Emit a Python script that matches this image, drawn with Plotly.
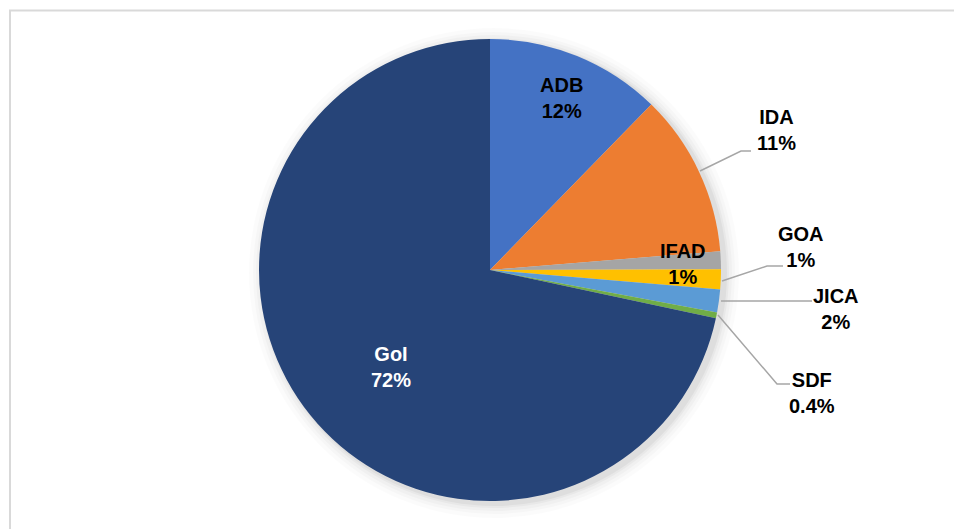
import plotly.graph_objects as go

W, H = 954, 529

labels = ["ADB", "IDA", "GOA", "IFAD", "JICA", "SDF", "GoI"]
values = [12.3, 11.4, 1.25, 1.4, 1.6, 0.4, 71.65]
colors = ["#4472C4", "#ED7D31", "#A5A5A5", "#FFC000", "#5B9BD5", "#70AD47", "#264478"]

total = sum(values)


def pct_text(v):
    p = v / total * 100
    return f"{p:.1f}%" if p < 1 else f"{p:.0f}%"


# label block centers (pixels) and leader lines (pixels)
label_pos = {
    "ADB": (561, 98),
    "IDA": (776, 130),
    "GOA": (801, 247),
    "IFAD": (683, 264),
    "JICA": (836, 309),
    "SDF": (812, 393),
    "GoI": (391, 367),
}
leaders = {
    "IDA": [(700, 171), (741, 151), (751, 151)],
    "GOA": [(722, 281), (767, 266), (783, 266)],
    "JICA": [(721, 301), (812, 301)],
    "SDF": [(718, 315), (777, 384), (790, 384)],
}


def px(x, y):
    return x / W, 1 - y / H


cx, cy, r = 490, 270, 231

fig = go.Figure()
fig.add_trace(go.Pie(
    labels=labels, values=values, sort=False, direction="clockwise", rotation=0,
    marker=dict(colors=colors, line=dict(width=0)),
    textinfo="none", hoverinfo="label+percent", showlegend=False,
    domain=dict(x=[(cx - r) / W, (cx + r) / W], y=[1 - (cy + r) / H, 1 - (cy - r) / H]),
))

shapes = []
# soft shadow around the pie
for d, a in [(14, 0.015), (10, 0.02), (7, 0.025), (4, 0.03), (2, 0.04)]:
    x0, y0 = px(cx - r - d + 4, cy - r - d + 3)
    x1, y1 = px(cx + r + d + 4, cy + r + d + 3)
    shapes.append(dict(type="circle", xref="paper", yref="paper", x0=x0, x1=x1, y0=y1, y1=y0,
                       fillcolor=f"rgba(0,0,0,{a})", line=dict(width=0), layer="below"))

# outer frame
fx0, fy0 = px(10, 10.5)
shapes.append(dict(type="rect", xref="paper", yref="paper", x0=fx0, x1=1.05, y0=-0.05, y1=fy0,
                   line=dict(color="#D9D9D9", width=2), fillcolor="rgba(0,0,0,0)", layer="below"))

for name, pts in leaders.items():
    path = "M " + " L ".join(f"{x/W},{1 - y/H}" for x, y in pts)
    shapes.append(dict(type="path", xref="paper", yref="paper", path=path,
                       line=dict(color="#A6A6A6", width=1.5)))

annotations = []
for name, v in zip(labels, values):
    x, y = px(*label_pos[name])
    color = "white" if name == "GoI" else "black"
    annotations.append(dict(
        x=x, y=y, xref="paper", yref="paper", showarrow=False,
        text=f"<b>{name}</b><br><b>{pct_text(v)}</b>",
        font=dict(family="Liberation Sans, Arial, sans-serif", size=20, color=color),
        xanchor="center", yanchor="middle", align="center",
    ))

fig.update_layout(
    width=W, height=H, margin=dict(l=0, r=0, t=0, b=0),
    paper_bgcolor="white", plot_bgcolor="white",
    shapes=shapes, annotations=annotations,
)

fig.write_html("out.html")
